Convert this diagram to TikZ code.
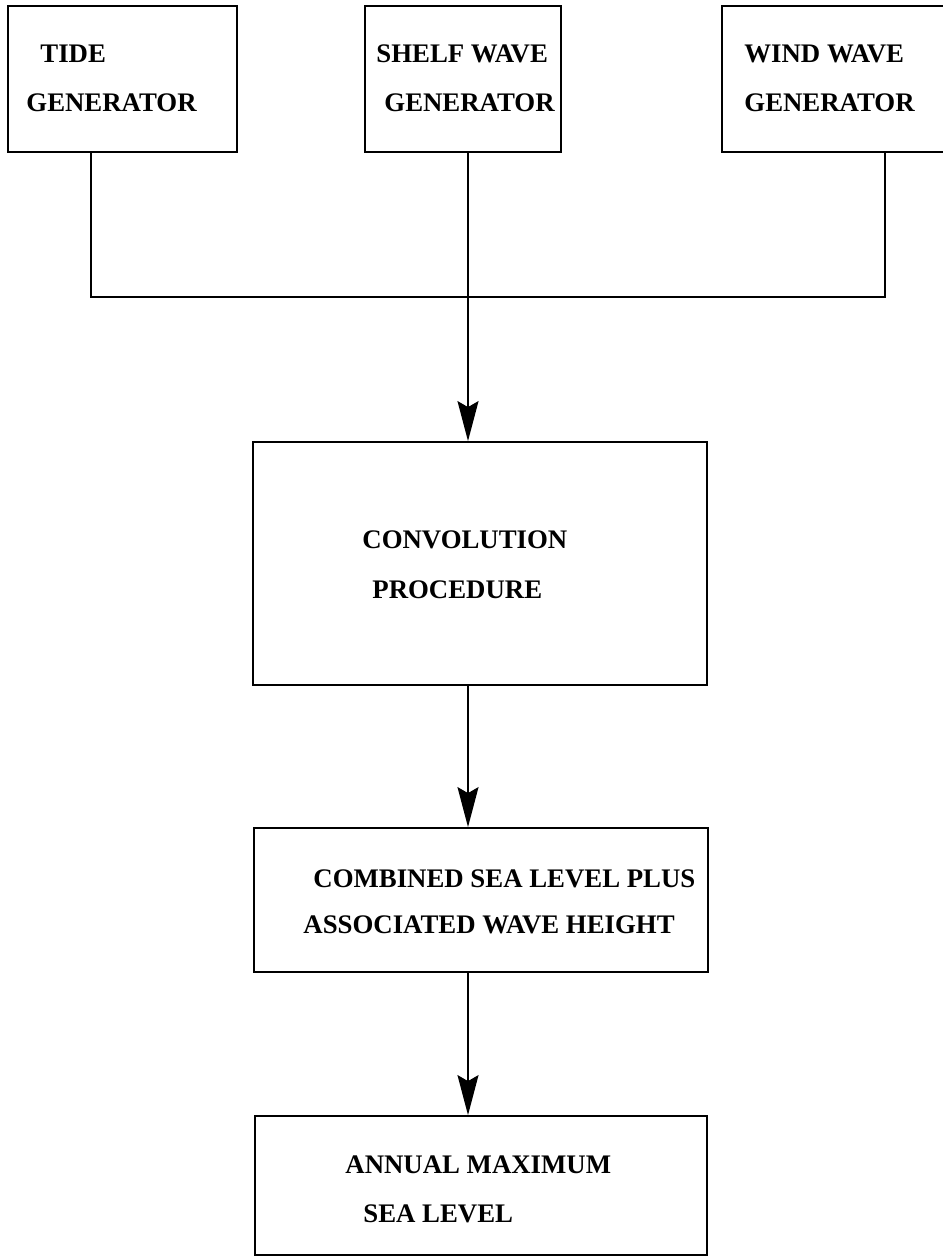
\documentclass[tikz,border=0pt]{standalone}
\usepackage{fontspec}
\setmainfont{Liberation Serif}
\usetikzlibrary{arrows.meta}
\begin{document}
\begin{tikzpicture}[x=0.5pt,y=-0.5pt,
  box/.style={draw, line width=0.9pt, rectangle, inner sep=0pt},
  lbl/.style={anchor=base west, inner sep=0pt, font=\fontsize{13.4}{15}\selectfont\bfseries},
  wire/.style={line width=0.8pt},
  arr/.style={line width=0.8pt, -{Stealth[length=20pt,width=10.5pt,inset=3pt]}}]
\useasboundingbox (0,0) rectangle (942,1257);
% boxes
\node[box, minimum width=114.5pt, minimum height=73pt] (tide) at (122.5,79) {};
\node[box, minimum width=98pt, minimum height=73pt] (shelf) at (463,79) {};
\node[box, minimum width=112pt, minimum height=73pt] (wind) at (834,79) {};
\node[box, minimum width=227pt, minimum height=121.5pt] (conv) at (480,563.5) {};
\node[box, minimum width=227pt, minimum height=72pt] (comb) at (481,900) {};
\node[box, minimum width=226pt, minimum height=69.5pt] (ann) at (481,1185.5) {};
% labels
\node[lbl] (t1) at (40,63) {TIDE};
\node[lbl] (t2) at (26,112) {GENERATOR};
\node[lbl] (s1) at (376,63) {SHELF WAVE};
\node[lbl] (s2) at (384,112) {GENERATOR};
\node[lbl] (w1) at (744,63) {WIND WAVE};
\node[lbl] (w2) at (744,112) {GENERATOR};
\node[lbl] (c1) at (362,548) {CONVOLUTION};
\node[lbl] (c2) at (372,598) {PROCEDURE};
\node[lbl] (m1) at (313,887) {COMBINED SEA LEVEL PLUS};
\node[lbl] (m2) at (303,933) {ASSOCIATED WAVE HEIGHT};
\node[lbl] (a1) at (345,1173) {ANNUAL MAXIMUM};
\node[lbl] (a2) at (363,1222) {SEA LEVEL};
% connectors
\coordinate (jl) at (91,297);
\coordinate (jr) at (885,297);
\coordinate (ax) at (468,0);
\draw[wire] (tide.south -| jl) -- (jl) -- (jr) -- (wind.south -| jr);
\draw[arr] (shelf.south -| ax) -- (conv.north -| ax);
\draw[arr] (conv.south -| ax) -- (comb.north -| ax);
\draw[arr] (comb.south -| ax) -- (ann.north -| ax);
\end{tikzpicture}
\end{document}
